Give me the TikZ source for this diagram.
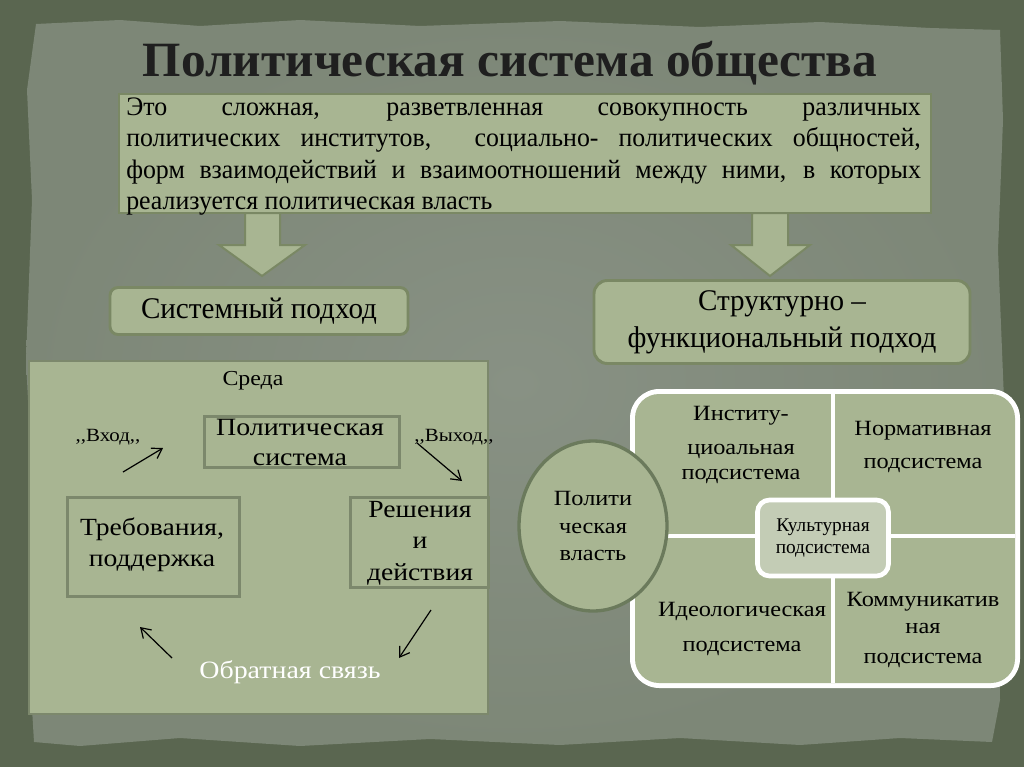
\documentclass[tikz,border=0pt]{standalone}
\usepackage{fontspec}
\setmainfont{Liberation Serif}
\newfontfamily\condf[FakeStretch=0.97]{Liberation Serif}
\newfontfamily\widef[FakeStretch=1.12]{Liberation Serif}
\usetikzlibrary{shapes.geometric,arrows.meta}
\definecolor{outerc}{HTML}{5A6650}
\definecolor{paperc}{HTML}{7D8777}
\definecolor{paperin}{HTML}{889184}
\definecolor{sage}{HTML}{A8B592}
\definecolor{sageedge}{HTML}{7A8864}
\definecolor{boxedge}{HTML}{7C886C}
\definecolor{cultc}{HTML}{C3CCB5}
\definecolor{ovaledge}{HTML}{6B7A5C}
\tikzset{
  sagebox/.style={fill=sage, draw=sageedge, line width=1.8pt},
  roundbox/.style={fill=sage, draw=sageedge, line width=2.2pt, rounded corners=6pt},
  innerbox/.style={draw=boxedge, line width=2.6pt},
  blockarrow/.style={fill=sage, draw=sageedge, line width=1.5pt, line join=miter},
  thinarrow/.style={-{Straight Barb[length=7pt,width=9pt]}, line width=0.9pt, black},
  txt/.style={align=center, inner sep=0pt},
  celltxt/.style={txt, font=\widef\fontsize{16.3}{19}\selectfont},
}
\begin{document}
\begin{tikzpicture}[x=0.75pt,y=-0.75pt]
\useasboundingbox (0,0) rectangle (1024,767);
% background
\fill[outerc] (0,0) rectangle (1024,767);
\shade[inner color=paperin, outer color=paperc] (36,24) -- (120,20) -- (200,26) -- (300,20) -- (420,26) -- (560,21) -- (700,27) -- (820,22) -- (930,28) -- (1000,30)
  -- (1003,120) -- (998,250) -- (1004,400) -- (998,560) -- (1000,700) -- (992,742)
  -- (900,738) -- (800,745) -- (680,738) -- (560,745) -- (430,739) -- (300,746) -- (180,738) -- (80,746) -- (34,742)
  -- (28,640) -- (33,500) -- (26,360) -- (32,200) -- (27,90) -- cycle;
% title
\node[txt, font=\bfseries\fontsize{37}{40}\selectfont, text=black!88] (title) at (510,63) {Политическая система общества};
% definition box
\node[sagebox, minimum width=812*0.75pt, minimum height=119*0.75pt, anchor=north west, inner sep=0pt] (def) at (118,93) {};
\node[anchor=north west, inner sep=0pt, font=\condf\fontsize{20}{23.3}\selectfont] (deftext) at (126,98)
 {\parbox{596pt}{Это сложная, разветвленная совокупность различных\linebreak политических институтов, \ социально- политических общностей,\linebreak форм взаимодействий и взаимоотношений между ними, в которых\linebreak реализуется политическая власть}};
% block arrows
\draw[blockarrow] (245,213) -- (280,213) -- (280,245) -- (305,245) -- (262,276) -- (219,245) -- (245,245) -- cycle;
\draw[blockarrow] (752,213) -- (788,213) -- (788,245) -- (810,245) -- (770,276) -- (731,245) -- (752,245) -- cycle;
% approach boxes
\node[roundbox, minimum width=298*0.75pt, minimum height=47*0.75pt, font=\condf\fontsize{22.5}{24}\selectfont] (sys) at (259,311) {Системный подход};
\node[roundbox, minimum width=376*0.75pt, minimum height=83*0.75pt, align=center, font=\condf\fontsize{22.5}{27.5}\selectfont, rounded corners=10pt] (struct) at (782,322) {Структурно –\\функциональный подход};
% left big box
\node[fill=sage, draw=boxedge, line width=1.5pt, minimum width=459*0.75pt, minimum height=353*0.75pt, anchor=north west, inner sep=0pt] (env) at (28,360) {};
\node[txt, font=\widef\fontsize{16}{18}\selectfont] (sreda) at (253,381) {Среда};
\node[innerbox, minimum width=195*0.75pt, minimum height=51*0.75pt, anchor=north west, inner sep=0pt] (polsys) at (203,415) {};
\node[txt, font=\widef\fontsize{18.7}{22.5}\selectfont] (polsystext) at (300,442) {Политическая\\система};
\node[txt, font=\widef\fontsize{14}{16}\selectfont] (vhod) at (108,437) {,,Вход,,};
\node[txt, font=\widef\fontsize{14}{16}\selectfont] (vyhod) at (454,437) {,,Выход,,};
\node[innerbox, minimum width=172*0.75pt, minimum height=99*0.75pt, anchor=north west, inner sep=0pt] (treb) at (66,496) {};
\node[txt, font=\widef\fontsize{18.5}{23}\selectfont] (trebtext) at (152,545) {Требования,\\поддержка};
\node[innerbox, minimum width=138*0.75pt, minimum height=90*0.75pt, anchor=north west, inner sep=0pt] (resh) at (349,496) {};
\node[txt, font=\widef\fontsize{18.5}{23.5}\selectfont] (reshtext) at (420,543) {Решения\\и\\действия};
\node[txt, font=\widef\fontsize{18.7}{20}\selectfont, text=white] (obr) at (290,672) {Обратная связь};
\coordinate (a1s) at (123,472); \coordinate (a1e) at (163,448);
\coordinate (a2s) at (417,443); \coordinate (a2e) at (462,481);
\coordinate (a3s) at (431,610); \coordinate (a3e) at (399,658);
\coordinate (a4s) at (172,658); \coordinate (a4e) at (140,627);
\draw[thinarrow] (a1s) -- (a1e);
\draw[thinarrow] (a2s) -- (a2e);
\draw[thinarrow] (a3s) -- (a3e);
\draw[thinarrow] (a4s) -- (a4e);
% right grid
\fill[white, rounded corners=22pt] (630,389) rectangle (1020,688);
\fill[sage, rounded corners=18pt] (635,394) rectangle (1015,683);
\draw[white, line width=3pt] (833,394) -- (833,683);
\draw[white, line width=3pt] (635,536) -- (1015,536);
\node[celltxt] (inst) at (741,416) {Институ-};
\node[celltxt, font=\widef\fontsize{16.3}{18.8}\selectfont] (inst2) at (741,464) {циоальная\\подсистема};
\node[celltxt, font=\widef\fontsize{16.3}{25}\selectfont] (norm) at (923,447) {Нормативная\\подсистема};
\node[celltxt, font=\widef\fontsize{16.3}{26}\selectfont] (ideo) at (742,629) {Идеологическая\\подсистема};
\node[celltxt, font=\widef\fontsize{16.3}{20}\selectfont] (komm) at (923,613) {Коммуникатив\\ная};
\node[celltxt] (komm2) at (923,660) {подсистема};
\node[fill=cultc, draw=white, line width=3.5pt, rounded corners=9pt, minimum width=131*0.75pt, minimum height=76*0.75pt, align=center, inner sep=1pt, font=\fontsize{14.5}{16}\selectfont] (cult) at (823,538) {Культурная\\подсистема};
\node[ellipse, fill=sage, draw=ovaledge, line width=2.5pt, minimum width=148*0.75pt, minimum height=170*0.75pt, align=center, inner sep=0pt, font=\widef\fontsize{16.3}{20.5}\selectfont] (vlast) at (593,526) {Полити\\ческая\\власть};
\end{tikzpicture}
\end{document}
